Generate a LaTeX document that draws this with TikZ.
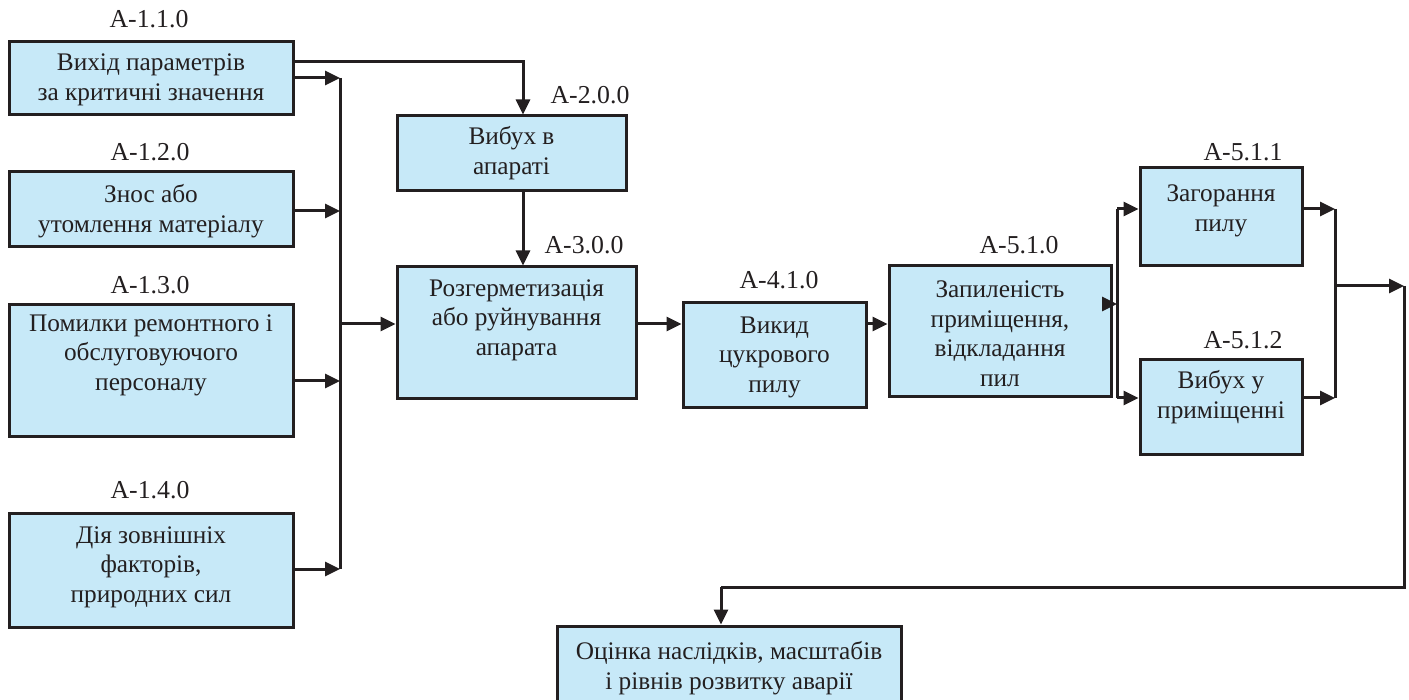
\documentclass[tikz,border=0pt]{standalone}
\usepackage{fontspec}
\setmainfont{Liberation Serif}
\usetikzlibrary{arrows.meta,positioning}
\definecolor{boxfill}{HTML}{C7E9F8}
\definecolor{ink}{HTML}{231F20}
\tikzset{
  box/.style={draw=ink, line width=3pt, fill=boxfill, inner sep=0pt, anchor=center},
  txt/.style={text=ink, font=\fontsize{25.3}{29.5}\selectfont, align=center, inner sep=0pt},
  lbl/.style={text=ink, font=\fontsize{25.8}{28}\selectfont, inner sep=0pt},
  conn/.style={draw=ink, line width=3pt},
  arr/.style={conn, -{Triangle[length=15pt,width=14pt]}}
}
\begin{document}
\begin{tikzpicture}[x=1pt,y=-1pt]
\useasboundingbox (0,0) rectangle (1409,700);
% boxes
\node[box, minimum width=284pt, minimum height=73pt] (b11) at (151,78.5) {};
\node[box, minimum width=284pt, minimum height=75pt] (b12) at (151,209.5) {};
\node[box, minimum width=284pt, minimum height=132pt] (b13) at (151,371) {};
\node[box, minimum width=284pt, minimum height=114pt] (b14) at (151,570) {};
\node[box, minimum width=229pt, minimum height=75pt] (b20) at (511.5,153.5) {};
\node[box, minimum width=239pt, minimum height=132pt] (b30) at (516.5,333) {};
\node[box, minimum width=183pt, minimum height=105pt] (b40) at (774.5,355.5) {};
\node[box, minimum width=222pt, minimum height=131pt] (b50) at (1000,331.5) {};
\node[box, minimum width=162pt, minimum height=98pt] (b511) at (1221,217) {};
\node[box, minimum width=162pt, minimum height=95pt] (b512) at (1221,407.5) {};
\node[box, minimum width=344pt, minimum height=78pt] (bf) at (729,665) {};
% texts
\node[txt] (t11) at (151,80) {Вихід параметрів\\за критичні значення};
\node[txt] (t12) at (151,211) {Знос або\\утомлення матеріалу};
\node[txt] (t13) at (151,355) {Помилки ремонтного і\\обслуговуючого\\персоналу};
\node[txt] (t14) at (151,567) {Дія зовнішніх\\факторів,\\природних сил};
\node[txt] (t20) at (511.5,153) {Вибух в\\апараті};
\node[txt] (t30) at (516.5,320) {Розгерметизація\\або руйнування\\апарата};
\node[txt] (t40) at (774.5,357) {Викид\\цукрового\\пилу};
\node[txt] (t50) at (1000,333.5) {Запиленість\\приміщення,\\відкладання\\пил};
\node[txt] (t511) at (1221,211) {Загорання\\пилу};
\node[txt] (t512) at (1221,397) {Вибух у\\приміщенні};
\node[txt] (tf) at (729,668) {Оцінка наслідків, масштабів\\і рівнів розвитку аварії};
% labels
\node[lbl] (l11) at (149,19) {A-1.1.0};
\node[lbl] (l12) at (150,152) {A-1.2.0};
\node[lbl] (l13) at (150,285) {A-1.3.0};
\node[lbl] (l14) at (150,490) {A-1.4.0};
\node[lbl] (l20) at (590,95) {A-2.0.0};
\node[lbl] (l30) at (584,245) {A-3.0.0};
\node[lbl] (l40) at (779,280) {A-4.1.0};
\node[lbl] (l50) at (1019,245) {A-5.1.0};
\node[lbl] (l511) at (1243,152) {A-5.1.1};
\node[lbl] (l512) at (1243,340) {A-5.1.2};
% coordinates
\coordinate (bt) at (340,78);
\coordinate (bb) at (340,569);
\coordinate (bm) at (340,324);
\coordinate (d2) at (523,62);
\coordinate (sp) at (1117,304);
\coordinate (st) at (1117,209);
\coordinate (sb) at (1117,398);
\coordinate (mt) at (1335,209);
\coordinate (mb) at (1335,398);
\coordinate (mm) at (1335,286);
\coordinate (rc) at (1404,286);
\coordinate (rd) at (1404,587);
\coordinate (fd) at (721,587);
% connectors
\draw[arr] (b11.east |- d2) -| (d2 |- b20.north);
\draw[arr] (d2 |- b20.south) -- (d2 |- b30.north);
\draw[arr] (b11.east |- bt) -- (bt);
\draw[arr] (b12.east |- 0,211) -- (bt |- 0,211);
\draw[arr] (b13.east |- 0,381) -- (bt |- 0,381);
\draw[arr] (b14.east |- bb) -- (bb);
\draw[conn] (bt) -- (bb);
\draw[arr] (bm) -- (bm -| b30.west);
\draw[arr] (b30.east |- bm) -- (b40.west |- bm);
\draw[arr] (b40.east |- bm) -- (b50.west |- bm);
\draw[arr] (b50.east |- sp) -- (sp);
\draw[conn] (st) -- (sb);
\draw[arr] (st) -- (st -| b511.west);
\draw[arr] (sb) -- (sb -| b512.west);
\draw[arr] (b511.east |- mt) -- (mt);
\draw[arr] (b512.east |- mb) -- (mb);
\draw[conn] (mt) -- (mb);
\draw[arr] (mm) -- (rc);
\draw[conn] (rc) -- (rd) -- (fd);
\draw[arr] (fd) -- (fd |- bf.north);
\end{tikzpicture}
\end{document}
